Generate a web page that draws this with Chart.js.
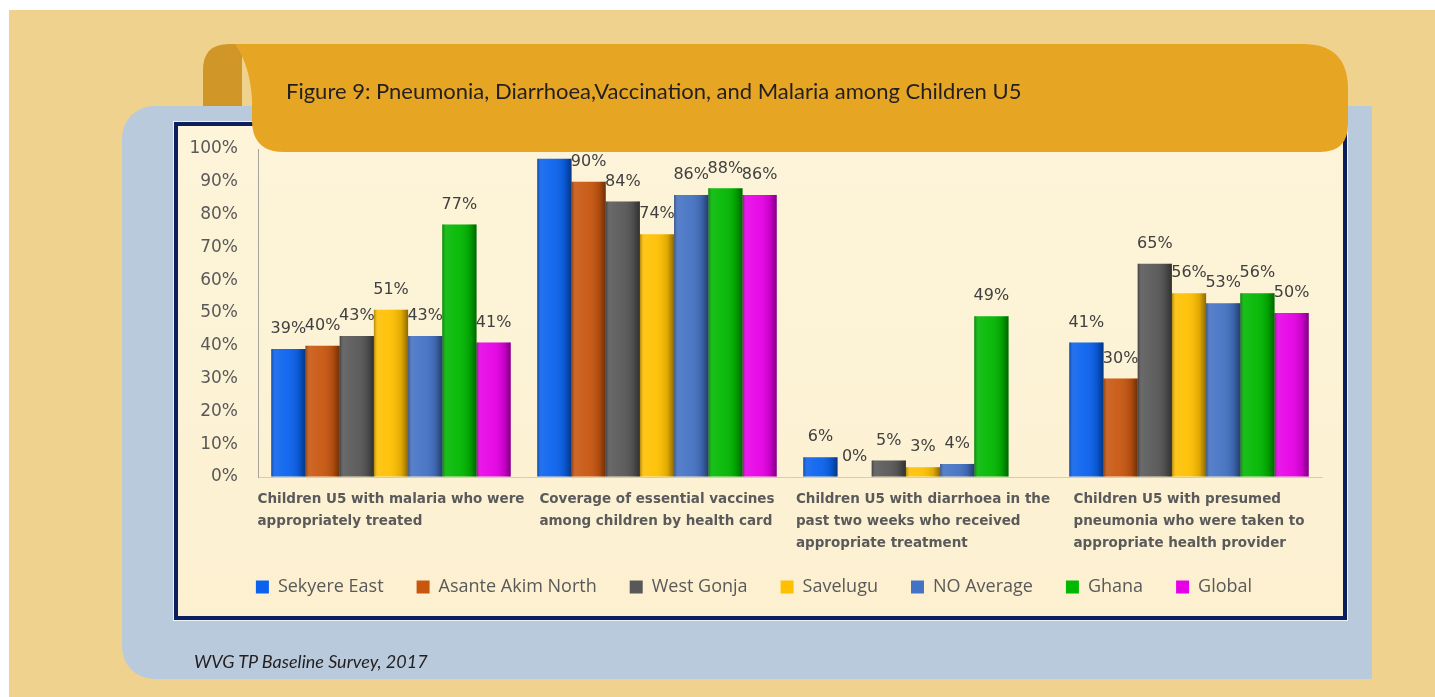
<!DOCTYPE html>
<html>
<head>
<meta charset="utf-8">
<script src="https://cdn.jsdelivr.net/npm/chart.js@4.4.1/dist/chart.umd.min.js"></script>
<style>
  html, body { margin: 0; padding: 0; }
  body { width: 1435px; height: 697px; background: #fff; position: relative; overflow: hidden; }
  .page { position: absolute; left: 9px; top: 10px; right: 0; bottom: 0; background: #F0D28F; }
  .panel { position: absolute; left: 122px; top: 106px; width: 1250px; height: 573px;
           background: #B8CADC; border-radius: 32px 0 0 32px; }
  .frame { position: absolute; left: 174px; top: 122px; width: 1165px; height: 490px;
           border: 4px solid #0B1F5E; box-shadow: 0 0 0 1px #EEF3F8;
           background: linear-gradient(180deg, #FDF4D9 0%, #FCF0D1 100%); }
  .frame canvas { position: absolute; left: 0; top: 0; }
  svg.header { position: absolute; left: 0; top: 0; }
  .title { position: absolute; left: 286px; top: 77px; font: 22px Lato, sans-serif; color: #231F20; white-space: nowrap; }
  .source { position: absolute; left: 194px; top: 650px; font: italic 18px Lato, sans-serif; color: #231F20; white-space: nowrap; }
</style>
</head>
<body>
<div class="page"></div>
<div class="panel"></div>
<div class="frame"><canvas id="chart" width="1165" height="490"></canvas></div>
<svg class="header" width="1435" height="697">
  <path d="M203,106 L203,70 Q203,44 229,44 L242,44 L242,106 Z" fill="#D09628"/>
  <path d="M235,44 L1303,44 Q1348,44 1348,89 L1348,124 Q1348,152 1320,152 L284,152 Q252,152 252,120 L252,100 C251,78 245,58 235,44 Z" fill="#E6A624"/>
</svg>
<div class="title">Figure 9: Pneumonia, Diarrhoea,Vaccination, and Malaria among Children U5</div>
<div class="source">WVG TP Baseline Survey, 2017</div>

<script>
const categories = [
  ['Children U5 with malaria who were', 'appropriately treated'],
  ['Coverage of essential vaccines', 'among children by health card'],
  ['Children U5 with diarrhoea in the', 'past two weeks who received', 'appropriate treatment'],
  ['Children U5 with presumed', 'pneumonia who were taken to', 'appropriate health provider']
];
const seriesNames = ['Sekyere East', 'Asante Akim North', 'West Gonja', 'Savelugu', 'NO Average', 'Ghana', 'Global'];
const sekyereEast = [39, 97, 6, 41];
const asanteAkimNorth = [40, 90, 0, 30];
const westGonja = [43, 84, 5, 65];
const savelugu = [51, 74, 3, 56];
const noAverage = [43, 86, 4, 53];
const ghana = [77, 88, 49, 56];
const global = [41, 86, null, 50];
const seriesColors = ['#0A62EE', '#C8560F', '#585858', '#FFC000', '#4472C4', '#00B800', '#E600E6'];

const allSeries = [sekyereEast, asanteAkimNorth, westGonja, savelugu, noAverage, ghana, global];

// horizontal shading on bars + value labels
const barDecor = {
  id: 'barDecor',
  afterDatasetsDraw(chart) {
    const ctx = chart.ctx;
    chart.data.datasets.forEach((ds, i) => {
      chart.getDatasetMeta(i).data.forEach((bar, j) => {
        if (ds.data[j] == null) return;
        const { x, y, base, width } = bar.getProps(['x', 'y', 'base', 'width'], true);
        const l = x - width / 2;
        const g = ctx.createLinearGradient(l, 0, l + width, 0);
        g.addColorStop(0, 'rgba(0,0,0,0.30)');
        g.addColorStop(0.12, 'rgba(255,255,255,0.10)');
        g.addColorStop(0.45, 'rgba(255,255,255,0.05)');
        g.addColorStop(0.8, 'rgba(0,0,0,0.12)');
        g.addColorStop(1, 'rgba(0,0,0,0.45)');
        ctx.save();
        ctx.fillStyle = g;
        ctx.fillRect(l, y, width, base - y);
        ctx.restore();
      });
    });
    ctx.save();
    ctx.font = '16px "DejaVu Sans"';
    ctx.fillStyle = '#404040';
    ctx.textAlign = 'center';
    ctx.textBaseline = 'middle';
    chart.data.datasets.forEach((ds, i) => {
      chart.getDatasetMeta(i).data.forEach((bar, j) => {
        if (ds.data[j] == null) return;
        ctx.fillText(ds.data[j] + '%', bar.x, bar.y - 20);
      });
    });
    ctx.restore();
  }
};

// category labels: left-aligned block centred under each group
const catLabels = {
  id: 'catLabels',
  afterDraw(chart) {
    const ctx = chart.ctx;
    const xs = chart.scales.x;
    ctx.save();
    ctx.font = 'bold 13.5px "DejaVu Sans"';
    ctx.fillStyle = '#5A5A5A';
    ctx.textAlign = 'left';
    ctx.textBaseline = 'middle';
    categories.forEach((lines, i) => {
      const w = Math.max(...lines.map(t => ctx.measureText(t).width));
      const left = xs.getPixelForValue(i) - w / 2;
      lines.forEach((t, k) => ctx.fillText(t, left, chart.chartArea.bottom + 22 + k * 22));
    });
    ctx.restore();
  }
};

const data = {
  labels: categories.map(c => c.join(' ')),
  datasets: seriesNames.map((name, i) => ({
    label: name,
    data: allSeries[i],
    backgroundColor: seriesColors[i],
    borderWidth: 0,
    barPercentage: 1,
    categoryPercentage: 0.9
  }))
};

const config = {
  type: 'bar',
  data: data,
  options: {
    responsive: false,
    animation: false,
    events: [],
    layout: { padding: { top: 23, right: 21, bottom: 10, left: 8 } },
    scales: {
      x: {
        grid: { display: false },
        border: { display: true, color: '#D2CCC0', width: 1 },
        ticks: { display: false },
        afterFit: (s) => { s.height = 68; }
      },
      y: {
        min: 0,
        max: 100,
        grid: { display: true, drawOnChartArea: false, drawTicks: true, tickLength: 8, tickColor: 'rgba(0,0,0,0)' },
        border: { display: true, color: '#A8A49C', width: 1 },
        ticks: {
          stepSize: 10,
          padding: 12,
          color: '#595959',
          font: { family: 'DejaVu Sans', size: 17 },
          callback: v => v + '%'
        },
        afterFit: (s) => { s.width = 72; }
      }
    },
    plugins: {
      legend: {
        position: 'bottom',
        labels: {
          boxWidth: 13,
          boxHeight: 13,
          padding: 33,
          color: '#595959',
          font: { family: 'Open Sans', size: 18 }
        }
      },
      tooltip: { enabled: false }
    }
  },
  plugins: [barDecor, catLabels]
};

const myChart = new Chart(document.getElementById('chart'), config);
</script>
</body>
</html>
